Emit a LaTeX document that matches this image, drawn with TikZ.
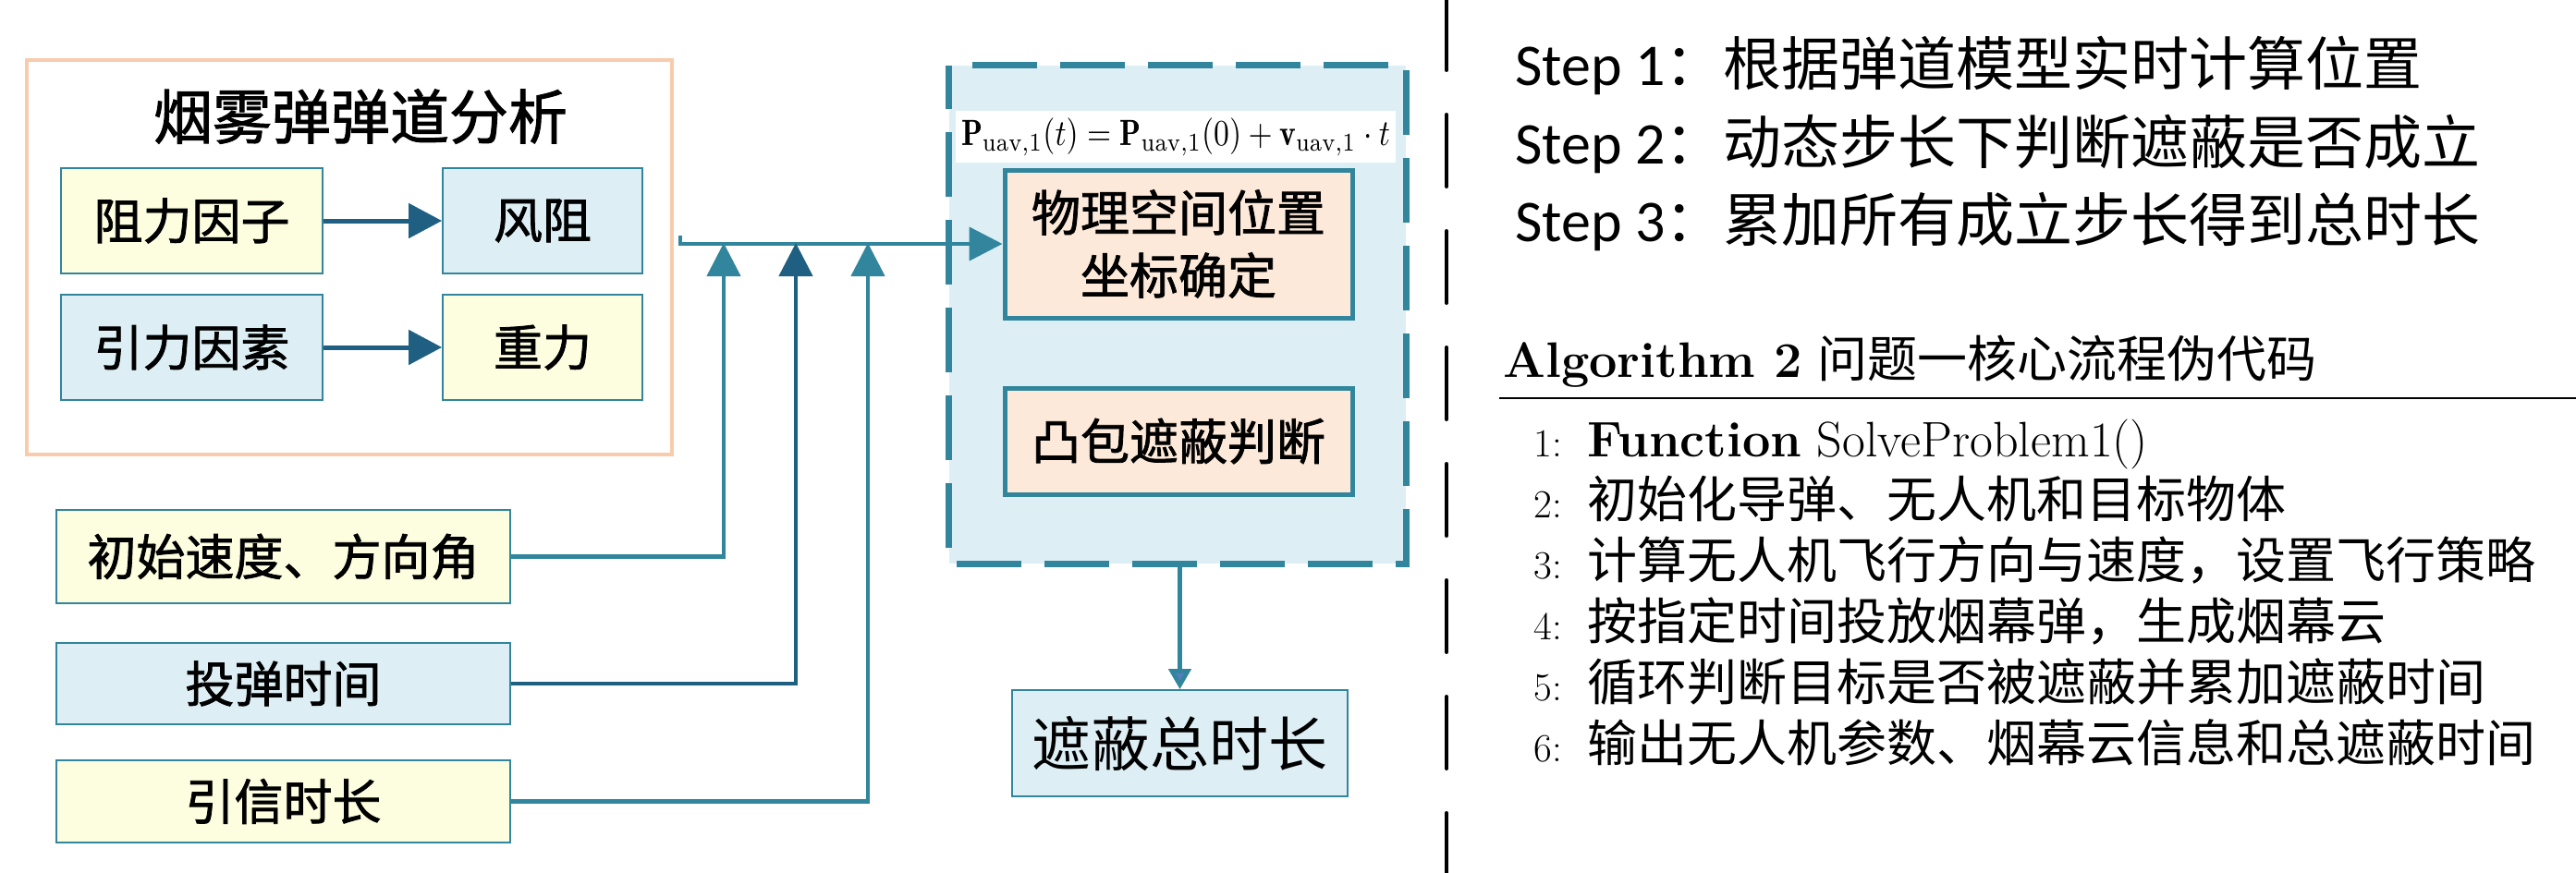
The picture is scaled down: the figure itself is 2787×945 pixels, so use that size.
\documentclass[tikz,border=0pt]{standalone}
\usepackage{fontspec}
\usepackage{graphicx}
\usetikzlibrary{arrows.meta}
\newfontfamily\cjk{Noto Sans CJK SC}
\newfontfamily\cjkmid{Noto Sans CJK SC}[FakeBold=1.5]
\newfontfamily\stepfont{Carlito}
\definecolor{teal1}{HTML}{31859C}
\definecolor{dblue}{HTML}{1F5F82}
\definecolor{lblue}{HTML}{DDEFF5}
\definecolor{lyellow}{HTML}{FDFDE0}
\definecolor{peach}{HTML}{FDE9D9}
\definecolor{salmon}{HTML}{F8CBAD}
\definecolor{afill}{HTML}{587DBF}
\begin{document}
\begin{tikzpicture}[x=1pt,y=-1pt,
  yelbox/.style={draw=teal1,line width=1.8pt,fill=lyellow,inner sep=0pt,font=\cjkmid\fontsize{53}{60}\selectfont},
  blubox/.style={draw=teal1,line width=1.8pt,fill=lblue,inner sep=0pt,font=\cjkmid\fontsize{53}{60}\selectfont},
  peachbox/.style={draw=teal1,line width=5pt,fill=peach,inner sep=0pt,align=center,font=\cjkmid\fontsize{53}{68}\selectfont},
  bigarrow/.style={draw=dblue,line width=5pt,-{Triangle[length=36pt,width=37pt]}},
  feedline/.style={line width=4.5pt,-{Triangle[length=36pt,width=36pt]}},
  algtext/.style={anchor=base west,inner sep=0pt,font=\fontsize{54}{60}\selectfont},
  algnum/.style={anchor=base east,inner sep=0pt,font=\fontsize{43}{50}\selectfont},
  steptext/.style={anchor=base west,inner sep=0pt,font=\stepfont\fontsize{64}{70}\selectfont}
]
\useasboundingbox (0,0) rectangle (2787,945);
\fill[white] (0,0) rectangle (2787,945);

% ---- left group ----
\node[draw=salmon,line width=4pt,minimum width=698pt,minimum height=427pt,inner sep=0pt] (frame) at (378,278.5) {};
\node[inner sep=0pt,font=\cjkmid\fontsize{64}{70}\selectfont] (title) at (390,126) {烟雾弹弹道分析};
\node[yelbox,minimum width=283pt,minimum height=114pt] (zl) at (207.5,239) {阻力因子};
\node[blubox,minimum width=216pt,minimum height=114pt] (fz) at (587,239) {风阻};
\node[blubox,minimum width=283pt,minimum height=114pt] (yl) at (207.5,376) {引力因素};
\node[yelbox,minimum width=216pt,minimum height=114pt] (zhl) at (587,376) {重力};
\draw[bigarrow] (zl.east) -- (fz.west);
\draw[bigarrow] (yl.east) -- (zhl.west);

% ---- inputs ----
\node[yelbox,minimum width=491pt,minimum height=101pt] (init) at (306.5,602.5) {初始速度、方向角};
\node[blubox,minimum width=491pt,minimum height=88pt] (drop) at (306.5,740) {投弹时间};
\node[yelbox,minimum width=491pt,minimum height=89pt] (fuse) at (306.5,867.5) {引信时长};

% ---- calculation frame ----
\node[fill=lblue,minimum width=494pt,minimum height=539pt,inner sep=0pt] (calc) at (1274,340.5) {};
\draw[teal1,line width=7pt,dash pattern=on 70pt off 25pt,dash phase=70pt]
  (calc.north west) -- (calc.north east) -- (calc.south east) -- (calc.south west) -- cycle;
\node[fill=white,minimum width=476pt,minimum height=56pt,inner sep=0pt] (formula) at (1272,148)
  {\resizebox*{464pt}{41pt}{$\mathbf{P}_{\mathrm{uav},1}(t)=\mathbf{P}_{\mathrm{uav},1}(0)+\mathbf{v}_{\mathrm{uav},1}\cdot t$}};
\node[peachbox,minimum width=376pt,minimum height=160pt] (phys) at (1275,264) {物理空间位置\\坐标确定};
\node[peachbox,minimum width=376pt,minimum height=115pt] (hull) at (1275,477.5) {凸包遮蔽判断};
\node[blubox,minimum width=363pt,minimum height=115pt,font=\cjk\fontsize{64}{70}\selectfont] (total) at (1276.5,804.5) {遮蔽总时长};

% ---- connectors ----
\coordinate (hs) at (736,255);
\coordinate (j1) at (783,263);
\coordinate (j2) at (861,263);
\coordinate (j3) at (939,263);
\draw[feedline,draw=teal1] (hs) |- (phys.west);
\draw[feedline,draw=teal1] (init.east) -| (j1);
\draw[feedline,draw=dblue] (drop.east) -| (j2);
\draw[feedline,draw=teal1] (fuse.east) -| (j3);
\draw[teal1,line width=4.5pt,-{Triangle[length=22pt,width=24pt,fill=afill]}] (calc.south -| total.north) -- (total.north);

% ---- divider ----
\coordinate (dtop) at (1565,-2);
\coordinate (dbot) at (1565,950);
\draw[black,line width=4pt,line cap=round,dash pattern=on 78pt off 48pt] (dtop) -- (dbot);

% ---- steps ----
\node[steptext] (s1) at (1639,92) {Step 1{\cjk\fontsize{63}{70}\selectfont ：根据弹道模型实时计算位置}};
\node[steptext] (s2) at (1639,177) {Step 2{\cjk\fontsize{63}{70}\selectfont ：动态步长下判断遮蔽是否成立}};
\node[steptext] (s3) at (1639,261) {Step 3{\cjk\fontsize{63}{70}\selectfont ：累加所有成立步长得到总时长}};

% ---- algorithm ----
\node[algtext] (ah) at (1626,408) {\textbf{Algorithm 2} {\cjk 问题一核心流程伪代码}};
\coordinate (rl) at (1622,431);
\coordinate (rr) at (2787,431);
\draw[black,line width=2.5pt] (rl) -- (rr);
\node[algnum] (n1) at (1690,494) {1:};
\node[algtext] (l1) at (1717,494) {\textbf{Function} SolveProblem1()};
\node[algnum] (n2) at (1690,560) {2:};
\node[algtext] (l2) at (1717,560) {\cjk 初始化导弹、无人机和目标物体};
\node[algnum] (n3) at (1690,626) {3:};
\node[algtext] (l3) at (1717,626) {\cjk 计算无人机飞行方向与速度，设置飞行策略};
\node[algnum] (n4) at (1690,692) {4:};
\node[algtext] (l4) at (1717,692) {\cjk 按指定时间投放烟幕弹，生成烟幕云};
\node[algnum] (n5) at (1690,758) {5:};
\node[algtext] (l5) at (1717,758) {\cjk 循环判断目标是否被遮蔽并累加遮蔽时间};
\node[algnum] (n6) at (1690,824) {6:};
\node[algtext] (l6) at (1717,824) {\cjk 输出无人机参数、烟幕云信息和总遮蔽时间};
\end{tikzpicture}
\end{document}
